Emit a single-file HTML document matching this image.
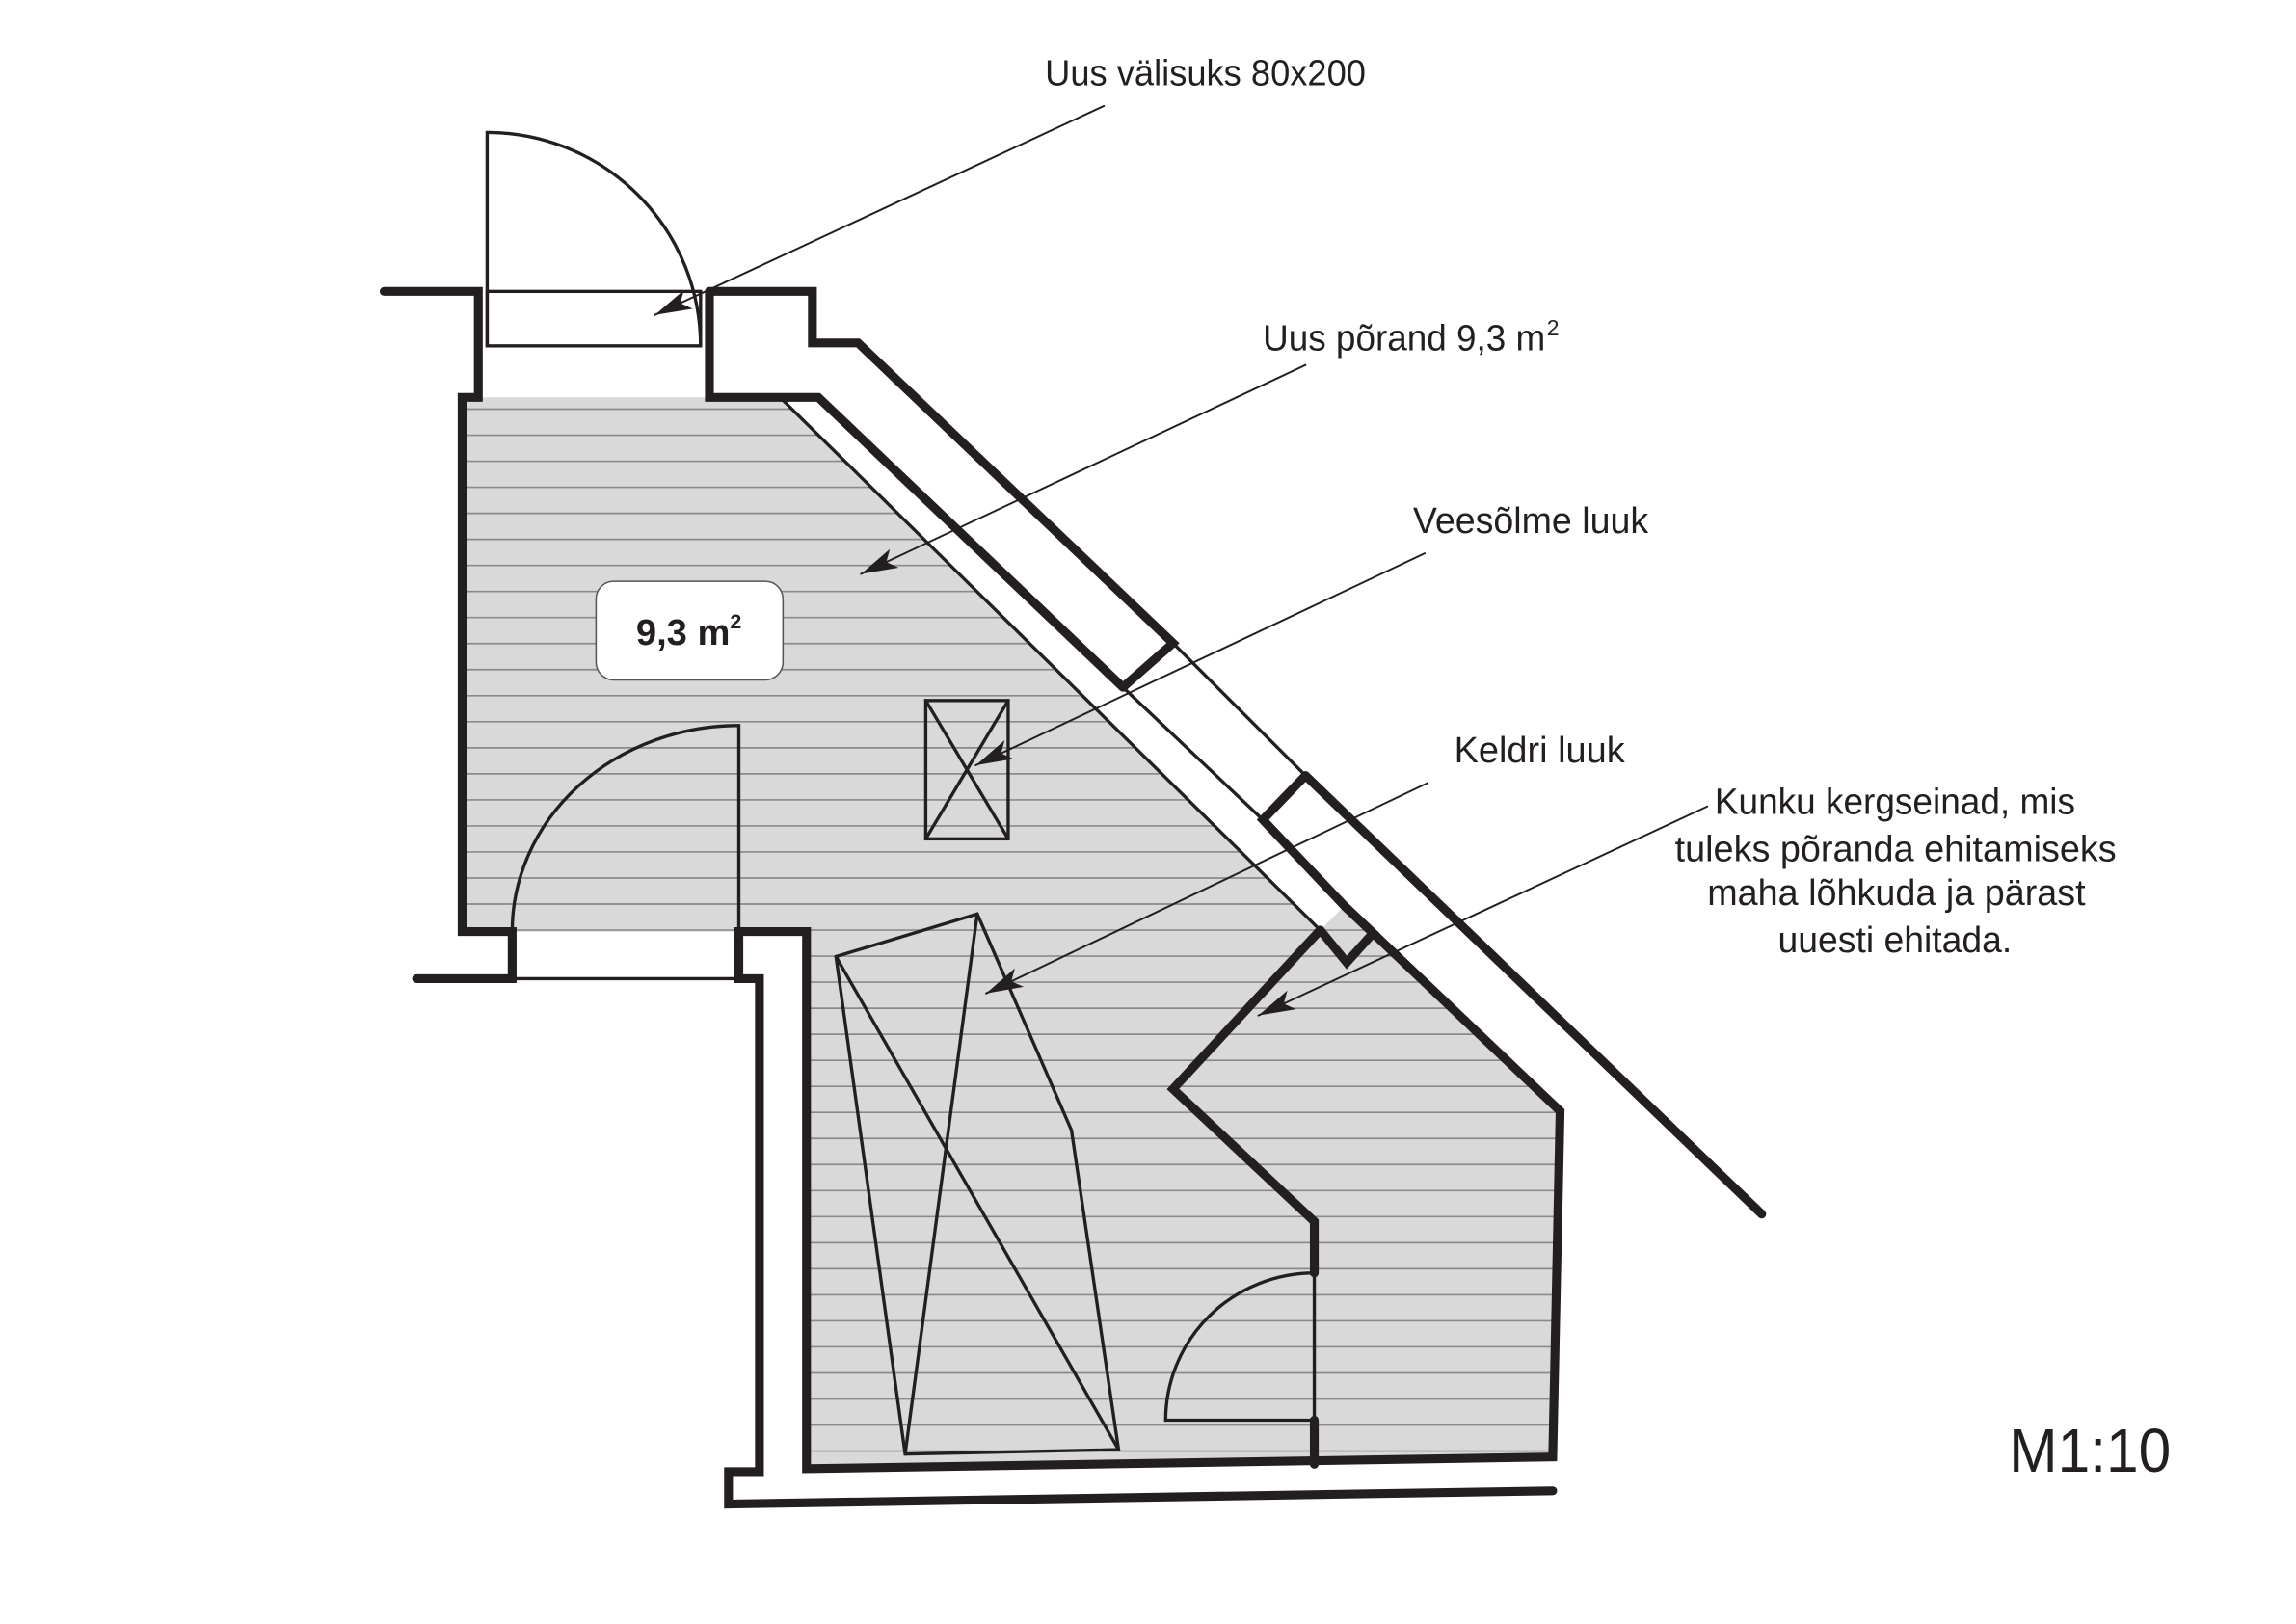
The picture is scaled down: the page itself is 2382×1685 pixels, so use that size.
<!DOCTYPE html>
<html><head><meta charset="utf-8"><style>
html,body{margin:0;padding:0;background:#fff;}
svg{display:block;}
text{font-family:"Liberation Sans",sans-serif;fill:#231f20;}
</style></head><body>
<svg width="2382" height="1685" viewBox="0 0 1560 1103.5" xmlns="http://www.w3.org/2000/svg">
<defs>
<marker id="ar" markerUnits="userSpaceOnUse" markerWidth="26" markerHeight="16" viewBox="0 0 26 16" refX="25" refY="8" orient="auto">
<path d="M0,1 L25,8 L0,15 L6,8 z" fill="#231f20"/>
</marker>
<clipPath id="fl"><polygon points="314,270 530,270 897,632 913,616 1060,755 1055,990 548,998 548,633 314,633"/></clipPath>
</defs>
<rect width="1560" height="1103.5" fill="#fff"/>
<!-- floor -->
<polygon points="314,270 530,270 897,632 913,616 1060,755 1055,990 548,998 548,633 314,633" fill="#d9d9d9"/>
<g clip-path="url(#fl)" stroke="#8a8a8a" stroke-width="1.1">
<script></script>
</g>
<g clip-path="url(#fl)" stroke="#8a8a8a" stroke-width="1.1" id="hatch">
<line x1="300" x2="1100" y1="278.0" y2="278.0"/><line x1="300" x2="1100" y1="295.7" y2="295.7"/><line x1="300" x2="1100" y1="313.4" y2="313.4"/><line x1="300" x2="1100" y1="331.1" y2="331.1"/><line x1="300" x2="1100" y1="348.8" y2="348.8"/><line x1="300" x2="1100" y1="366.5" y2="366.5"/><line x1="300" x2="1100" y1="384.2" y2="384.2"/><line x1="300" x2="1100" y1="401.9" y2="401.9"/><line x1="300" x2="1100" y1="419.6" y2="419.6"/><line x1="300" x2="1100" y1="437.3" y2="437.3"/><line x1="300" x2="1100" y1="455.0" y2="455.0"/><line x1="300" x2="1100" y1="472.7" y2="472.7"/><line x1="300" x2="1100" y1="490.4" y2="490.4"/><line x1="300" x2="1100" y1="508.1" y2="508.1"/><line x1="300" x2="1100" y1="525.8" y2="525.8"/><line x1="300" x2="1100" y1="543.5" y2="543.5"/><line x1="300" x2="1100" y1="561.2" y2="561.2"/><line x1="300" x2="1100" y1="578.9" y2="578.9"/><line x1="300" x2="1100" y1="596.6" y2="596.6"/><line x1="300" x2="1100" y1="614.3" y2="614.3"/><line x1="300" x2="1100" y1="632.0" y2="632.0"/><line x1="300" x2="1100" y1="649.7" y2="649.7"/><line x1="300" x2="1100" y1="667.4" y2="667.4"/><line x1="300" x2="1100" y1="685.1" y2="685.1"/><line x1="300" x2="1100" y1="702.8" y2="702.8"/><line x1="300" x2="1100" y1="720.5" y2="720.5"/><line x1="300" x2="1100" y1="738.2" y2="738.2"/><line x1="300" x2="1100" y1="755.9" y2="755.9"/><line x1="300" x2="1100" y1="773.6" y2="773.6"/><line x1="300" x2="1100" y1="791.3" y2="791.3"/><line x1="300" x2="1100" y1="809.0" y2="809.0"/><line x1="300" x2="1100" y1="826.7" y2="826.7"/><line x1="300" x2="1100" y1="844.4" y2="844.4"/><line x1="300" x2="1100" y1="862.1" y2="862.1"/><line x1="300" x2="1100" y1="879.8" y2="879.8"/><line x1="300" x2="1100" y1="897.5" y2="897.5"/><line x1="300" x2="1100" y1="915.2" y2="915.2"/><line x1="300" x2="1100" y1="932.9" y2="932.9"/><line x1="300" x2="1100" y1="950.6" y2="950.6"/><line x1="300" x2="1100" y1="968.3" y2="968.3"/><line x1="300" x2="1100" y1="986.0" y2="986.0"/>
</g>

<g fill="none" stroke="#231f20" stroke-linejoin="miter" stroke-linecap="round">
<!-- thick walls -->
<g stroke-width="6">
<polyline points="261,198 325,198 325,270 314,270 314,633 348,633 348,665 283,665"/>
<polyline points="482,198 552,198 552,233 583,233 797,437 763,467"/>
<polyline points="482,198 482,270 556,270 763,467"/>
<polyline points="887,527 858,557 913.5,615.6 1060,755 1055,990 548,998 548,633 502,633 502,665 516,665 516,1000 495,1000 495,1022 1055,1013"/>
<polyline points="887,527 1197,825"/>
<polyline points="897,632 797,740 893,830 893,865"/>
<polyline points="913.5,615.6 933,634 915,654 897,632"/>
<polyline points="893,965 893,995"/>
</g>
<!-- thin lines -->
<g stroke-width="2.2">
<rect x="331" y="198" width="145" height="37"/>
<path d="M331,235 L331,90 A145,145 0 0 1 476,235"/>
<line x1="530" y1="270" x2="897" y2="632"/>
<line x1="797" y1="437" x2="887" y2="527"/>
<line x1="763" y1="467" x2="858" y2="557"/>
<line x1="348" y1="665" x2="502" y2="665"/>
<path d="M348,633 A154,140 0 0 1 502,493 L502,633"/>
<path d="M893,865 L893,965 L792,965 A101,100 0 0 1 893,865"/>
<rect x="629" y="476" width="56" height="94"/>
<line x1="629" y1="476" x2="685" y2="570"/>
<line x1="685" y1="476" x2="629" y2="570"/>
<polygon points="568,650 664,621 728,768 760,985 615,988"/>
<line x1="568" y1="650" x2="760" y2="985"/>
<line x1="664" y1="621" x2="615" y2="988"/>
</g>
<!-- leaders -->
<g stroke-width="1.3" marker-end="url(#ar)">
<line x1="750" y1="72" x2="445" y2="214"/>
<line x1="887" y1="248" x2="585" y2="390"/>
<line x1="968" y1="376" x2="663" y2="520"/>
<line x1="970" y1="532" x2="670" y2="675"/>
<line x1="1160" y1="548" x2="855" y2="690"/>
</g>
</g>
<!-- area box -->
<rect x="405" y="395" width="127" height="67" rx="12" fill="#fff" stroke="#555" stroke-width="1"/>
<text x="468" y="438" font-size="25" font-weight="bold" text-anchor="middle">9,3 m<tspan font-size="14" dy="-11">2</tspan></text>
<!-- labels -->
<g font-size="25">
<text x="710" y="58" textLength="218" lengthAdjust="spacingAndGlyphs">Uus välisuks 80x200</text>
<text x="858" y="238" textLength="192" lengthAdjust="spacingAndGlyphs">Uus põrand 9,3 m</text>
<text x="1051" y="228" font-size="15">2</text>
<text x="960" y="362" textLength="160" lengthAdjust="spacingAndGlyphs">Veesõlme luuk</text>
<text x="988" y="518" textLength="116" lengthAdjust="spacingAndGlyphs">Keldri luuk</text>
<text x="1165" y="553" textLength="245" lengthAdjust="spacingAndGlyphs">Kunku kergseinad, mis</text>
<text x="1138" y="585" textLength="300" lengthAdjust="spacingAndGlyphs">tuleks põranda ehitamiseks</text>
<text x="1160" y="615" textLength="257" lengthAdjust="spacingAndGlyphs">maha lõhkuda ja pärast</text>
<text x="1208" y="647" textLength="159" lengthAdjust="spacingAndGlyphs">uuesti ehitada.</text>
</g>
<text x="1365" y="1000" font-size="42" textLength="110" lengthAdjust="spacingAndGlyphs" fill="#333">M1:10</text>
</svg>
</body></html>
